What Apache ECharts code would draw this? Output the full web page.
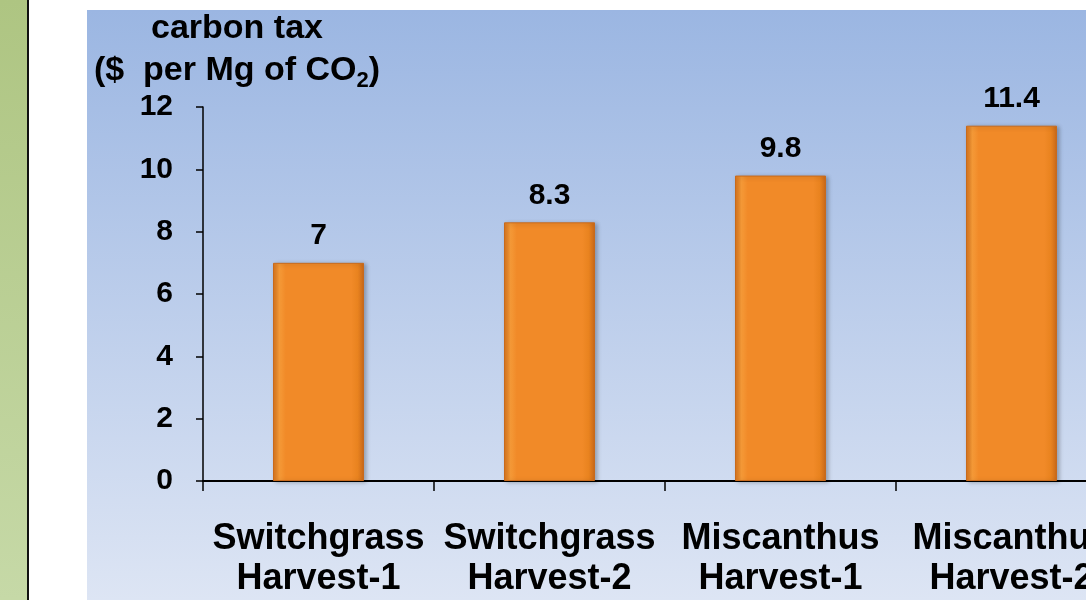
<!DOCTYPE html>
<html>
<head>
<meta charset="utf-8">
<script src="https://cdn.jsdelivr.net/npm/echarts@6/dist/echarts.min.js"></script>
<style>
html,body{margin:0;padding:0;background:#fff;}
#chart{width:1086px;height:600px;}
</style>
</head>
<body>
<div id="chart"></div>
<script>
const categories = ['Switchgrass\nHarvest-1', 'Switchgrass\nHarvest-2', 'Miscanthus\nHarvest-1', 'Miscanthus\nHarvest-2'];
const taxValues = [7, 8.3, 9.8, 11.4];
const yTicks = { min: 0, max: 12, interval: 2 };

const FONT = '"Liberation Sans", Arial, sans-serif';
const chart = echarts.init(document.getElementById('chart'), null, { renderer: 'canvas' });

const barColor = new echarts.graphic.LinearGradient(0, 0, 1, 0, [
  { offset: 0, color: '#D9741C' },
  { offset: 0.07, color: '#F59A38' },
  { offset: 0.14, color: '#F18A28' },
  { offset: 0.86, color: '#F18A28' },
  { offset: 0.93, color: '#E9831F' },
  { offset: 1, color: '#C9691A' }
]);

chart.setOption({
  animation: false,
  graphic: [
    { type: 'rect', z: -10, shape: { x: 0, y: 0, width: 28, height: 600 },
      style: { fill: new echarts.graphic.LinearGradient(0, 0, 0, 1, [
        { offset: 0, color: '#AEC582' }, { offset: 1, color: '#C6D9A7' }]) } },
    { type: 'rect', z: -10, shape: { x: 27, y: 0, width: 2, height: 600 }, style: { fill: '#111' } },
    { type: 'rect', z: -10, shape: { x: 87, y: 10, width: 999, height: 590 },
      style: { fill: new echarts.graphic.LinearGradient(0, 0, 0, 1, [
        { offset: 0, color: '#9BB6E2' }, { offset: 1, color: '#DDE5F4' }]) } }
  ],
  grid: { left: 203, top: 107, right: -41, bottom: 119, outerBoundsMode: 'none', containLabel: false },
  xAxis: {
    type: 'category',
    data: categories,
    axisLine: { lineStyle: { color: '#000', width: 2 } },
    axisTick: { show: true, length: 10, lineStyle: { color: '#000', width: 1.5 } },
    axisLabel: {
      interval: 0, margin: 38, color: '#000', fontFamily: FONT,
      fontWeight: 'bold', fontSize: 36, lineHeight: 40
    }
  },
  yAxis: {
    type: 'value',
    min: yTicks.min, max: yTicks.max, interval: yTicks.interval,
    name: '{a|carbon tax}\n{a|($  per Mg of CO}{s|2}{a|)}',
    nameLocation: 'end',
    nameGap: 15,
    nameTextStyle: {
      align: 'center',
      padding: [0, 0, 0, 68],
      rich: {
        a: { fontFamily: FONT, fontWeight: 'bold', fontSize: 34, color: '#000', lineHeight: 42 },
        s: { fontFamily: FONT, fontWeight: 'bold', fontSize: 22, color: '#000', lineHeight: 42, verticalAlign: 'bottom', padding: [14, 0, 0, 0] }
      }
    },
    splitLine: { show: false },
    axisLine: { show: true, lineStyle: { color: '#000', width: 1.5 } },
    axisTick: { show: true, length: 7, lineStyle: { color: '#000', width: 1.5 } },
    axisLabel: { margin: 30, color: '#000', fontFamily: FONT, fontWeight: 'bold', fontSize: 30 }
  },
  series: [{
    type: 'bar',
    data: taxValues,
    barWidth: 91,
    itemStyle: {
      color: barColor,
      borderColor: '#C86A1C', borderWidth: 1,
      shadowColor: 'rgba(0,0,0,0.25)', shadowBlur: 4, shadowOffsetX: 2, shadowOffsetY: 1
    },
    label: {
      show: true, position: 'top', distance: 12,
      color: '#000', fontFamily: FONT, fontWeight: 'bold', fontSize: 30
    }
  }]
});
</script>
</body>
</html>
